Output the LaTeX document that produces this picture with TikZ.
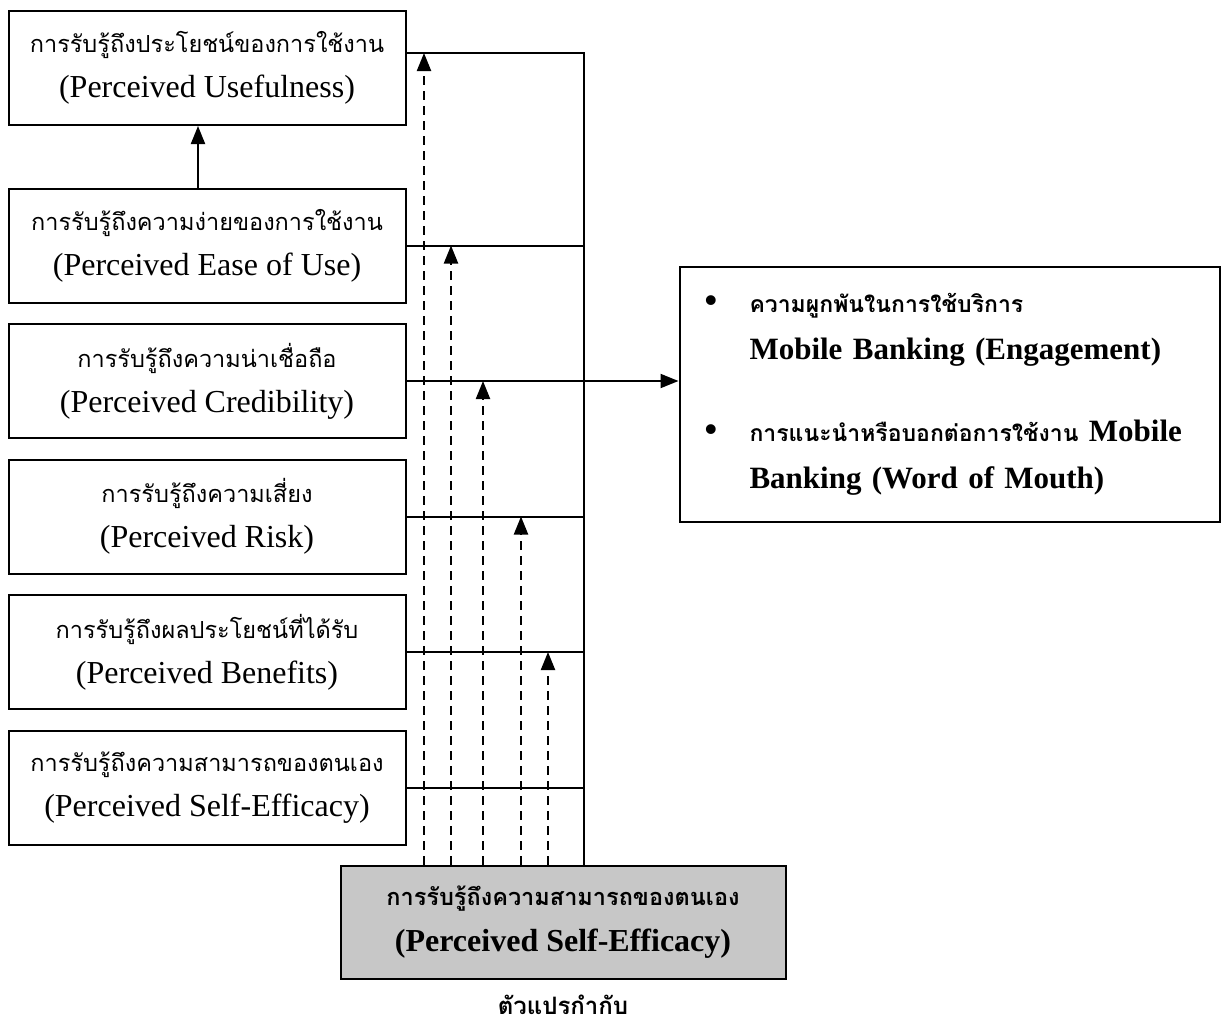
\documentclass[tikz,border=0pt]{standalone}
\usepackage{fontspec}
\setmainfont{Liberation Serif}
\newfontfamily\thai[Script=Thai]{Loma}
\usetikzlibrary{arrows.meta,positioning,calc}

\newcommand{\thtext}[1]{{\thai\fontsize{23.5}{45}\selectfont #1}}

\begin{document}
\begin{tikzpicture}[
  x=1pt, y=1pt,
  font=\fontsize{32}{45}\selectfont,
  node distance=19.5pt,
  factor/.style={
    draw=black,
    line width=2pt,
    fill=white,
    align=center,
    inner sep=0pt,
    minimum width=397pt,
    minimum height=114pt
  },
  outcome/.style={
    draw=black,
    line width=2pt,
    align=left,
    inner xsep=25pt,
    inner ysep=0pt,
    text width=490pt,
    minimum height=255pt,
    font=\fontsize{31}{47}\selectfont\bfseries
  },
  moder/.style={
    draw=black,
    line width=2pt,
    fill=black!22,
    align=center,
    inner sep=0pt,
    minimum width=445pt,
    minimum height=113pt,
    font=\fontsize{32}{46}\selectfont\bfseries
  },
  link/.style={line width=2pt, draw=black},
  arrow/.style={-{Triangle[length=18pt,width=14pt]}, line width=2pt, draw=black},
  dasharrow/.style={arrow, line width=2.2pt, dash pattern=on 9pt off 6pt}
]
\useasboundingbox (0,0) rectangle (1224,-1026);

\node[factor] (b1) at (207,-68) {\thtext{การรับรู้ถึงประโยชน์ของการใช้งาน}\\(Perceived Usefulness)};
\node[factor, below=61.5pt of b1] (b2) {\thtext{การรับรู้ถึงความง่ายของการใช้งาน}\\(Perceived Ease of Use)};
\node[factor, below=of b2] (b3) {\thtext{การรับรู้ถึงความน่าเชื่อถือ}\\(Perceived Credibility)};
\node[factor, below=of b3] (b4) {\thtext{การรับรู้ถึงความเสี่ยง}\\(Perceived Risk)};
\node[factor, below=of b4] (b5) {\thtext{การรับรู้ถึงผลประโยชน์ที่ได้รับ}\\(Perceived Benefits)};
\node[factor, below=of b5] (b6) {\thtext{การรับรู้ถึงความสามารถของตนเอง}\\(Perceived Self-Efficacy)};

\node[outcome, right=272pt of b3, yshift=-13.5pt] (out) {%
  \makebox[45pt][l]{\fontsize{36}{47}\selectfont\textbullet}{\thai\fontsize{23}{47}\selectfont ความผูกพันในการใช้บริการ}\\
  \hspace*{45pt}Mobile Banking (Engagement)\\[35pt]
  \mbox{\makebox[45pt][l]{\fontsize{36}{47}\selectfont\textbullet}{\thai\fontsize{23}{47}\selectfont การแนะนำหรือบอกต่อการใช้งาน} Mobile}\\
  \hspace*{45pt}Banking (Word of Mouth)};

\node[moder] (mod) at (563,-922) {{\thai\fontsize{23.5}{46}\selectfont การรับรู้ถึงความสามารถของตนเอง}\\(Perceived Self-Efficacy)};
\node[below=12pt of mod, font=\thai\bfseries\fontsize{24}{30}\selectfont] (lbl) {ตัวแปรกำกับ};

% line ends on the left column
\coordinate (l1) at ($(b1.east)+(0,15)$);
\coordinate (bus) at ($(l1)+(177,0)$);

\draw[arrow] ([xshift=-9pt]b2.north) -- ([xshift=-9pt]b1.south);
\draw[link] (l1) -- (bus) -- (bus |- mod.north);
\foreach \b in {b2,b4,b5,b6}
  \draw[link] (\b.east) -- (\b.east -| bus);
\draw[arrow] (b3.east) -- (b3.east -| out.west);

\foreach \x/\t in {424/l1,451/b2.east,483/b3.east,521/b4.east,548/b5.east}
  \draw[dasharrow] (\x,0 |- mod.north) -- (\x,0 |- \t);

\end{tikzpicture}
\end{document}
